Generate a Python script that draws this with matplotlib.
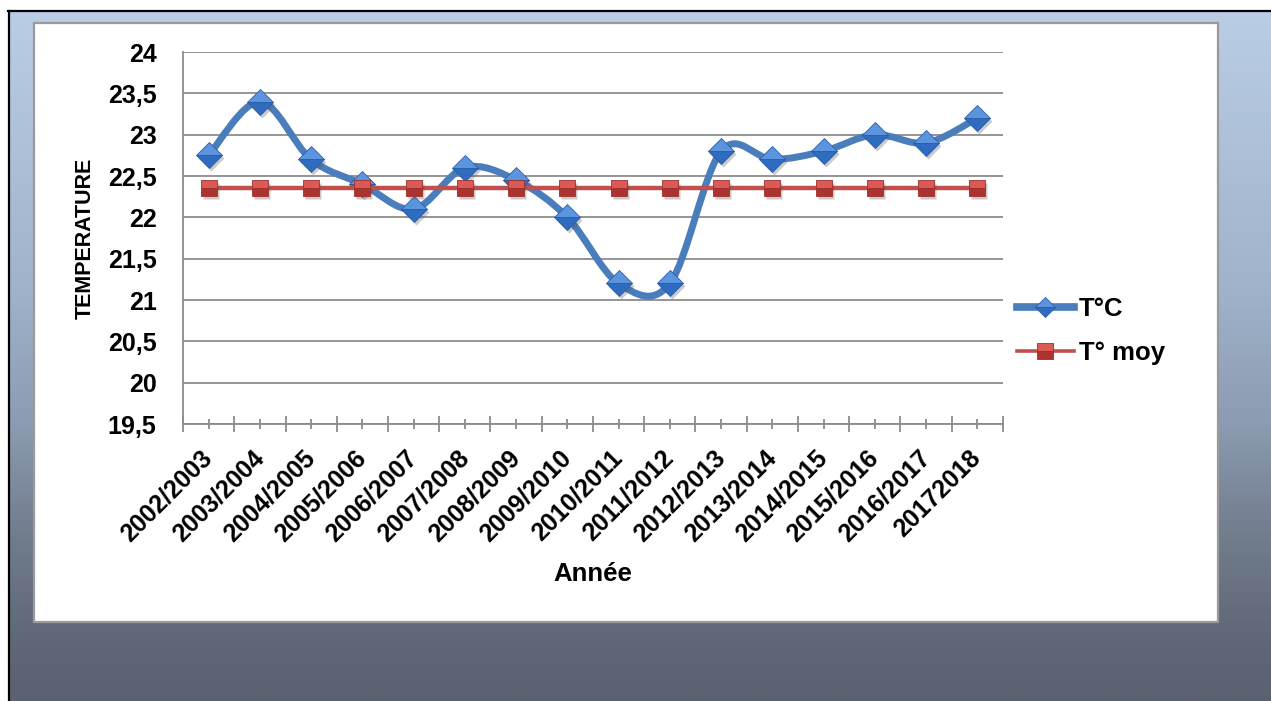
import numpy as np
import matplotlib
matplotlib.use("Agg")
import matplotlib.pyplot as plt
from matplotlib.path import Path
from matplotlib.patches import PathPatch, Rectangle
from matplotlib.lines import Line2D
from matplotlib.ticker import FuncFormatter
from matplotlib.transforms import offset_copy

plt.rcParams['font.family'] = ['Liberation Sans', 'DejaVu Sans']
plt.rcParams['font.weight'] = 'bold'

# ==================== Data ==================== #
years = ['2002/2003', '2003/2004', '2004/2005', '2005/2006', '2006/2007',
         '2007/2008', '2008/2009', '2009/2010', '2010/2011', '2011/2012',
         '2012/2013', '2013/2014', '2014/2015', '2015/2016', '2016/2017',
         '20172018']
temp = [22.75, 23.4, 22.7, 22.4, 22.1, 22.6, 22.45, 22.0,
        21.2, 21.2, 22.8, 22.7, 22.8, 23.0, 22.9, 23.2]
temp_moy = [22.35] * len(years)

W, H = 1271, 701
fig = plt.figure(figsize=(W / 100, H / 100), dpi=100)

# ==================== Background ==================== #
bg = fig.add_axes([0, 0, 1, 1], zorder=0)
bg.set_xlim(0, W)
bg.set_ylim(H, 0)
bg.axis('off')

# vertical gradient, light blue at the top to slate at the bottom
stops = [0.0, 0.4, 0.6, 0.75, 0.9, 1.0]
cols = np.array([[185, 205, 228], [160, 179, 202], [140, 155, 177],
                 [115, 126, 143], [96, 105, 120], [90, 97, 112]]) / 255
yy = np.linspace(0, 1, 400)
grad = np.stack([np.interp(yy, stops, cols[:, k]) for k in range(3)], axis=-1)
bg.imshow(grad[:, None, :], extent=(9, W, H, 12), aspect='auto', zorder=0)
bg.plot([8.8, 8.8], [11, H], color='black', lw=1.6, zorder=1)
bg.plot([8, W], [11.2, 11.2], color='black', lw=1.6, zorder=1)

# white chart panel
bg.add_patch(Rectangle((34, 23), 1184, 599, facecolor='white',
                       edgecolor='#9a9a9a', lw=1.6, zorder=2))

# ==================== Plot area ==================== #
ax = fig.add_axes([183 / W, 1 - 424 / H, 820 / W, 372 / H], zorder=1)
ax.patch.set_alpha(0)

x = np.arange(len(years)) + 0.5
ax.set_xlim(0, len(years))
ax.set_ylim(19.5, 24)


def smooth_path(xs, ys):
    # Catmull-Rom style bezier through the points (smoothed line)
    pts = np.column_stack([xs, ys])
    ext = np.vstack([pts[0], pts, pts[-1]])
    verts = [pts[0]]
    codes = [Path.MOVETO]
    for i in range(len(pts) - 1):
        p0, p1, p2, p3 = ext[i], ext[i + 1], ext[i + 2], ext[i + 3]
        verts += [p1 + (p2 - p0) / 6, p2 - (p3 - p1) / 6, p2]
        codes += [Path.CURVE4] * 3
    return Path(verts, codes)


blue = '#4a7dbb'
red = '#c0504d'
shadow = offset_copy(ax.transData, fig=fig, x=2, y=-3, units='dots')

ax.add_patch(PathPatch(smooth_path(x, temp), facecolor='none', edgecolor=blue,
                       lw=5, capstyle='round', joinstyle='round', zorder=3))
ax.plot(x, temp, ls='none', marker='D', ms=13.5, color='#555555', alpha=0.3,
        mec='none', transform=shadow, zorder=3.5)
ax.plot(x, temp, ls='none', marker='D', ms=13.5, fillstyle='top',
        mfc='#5c95df', mfcalt='#2f6bbf', mec='#2b5fa8', mew=0.6, zorder=4)

ax.plot(x, temp_moy, color=red, lw=3.2, zorder=5)
ax.plot(x, temp_moy, ls='none', marker='s', ms=11.5, color='#555555', alpha=0.3,
        mec='none', transform=shadow, zorder=5.5)
ax.plot(x, temp_moy, ls='none', marker='s', ms=11.5, fillstyle='top',
        mfc='#dc5a56', mfcalt='#ab3330', mec='#9e2f2c', mew=0.6, zorder=6)

# ==================== Axes styling ==================== #
grey = '#8c8c8c'
ax.set_yticks(np.arange(19.5, 24.01, 0.5))
ax.yaxis.set_major_formatter(FuncFormatter(lambda v, p: f'{v:g}'.replace('.', ',')))
ax.yaxis.grid(True, color=grey, lw=1.3)
ax.set_axisbelow(True)
ax.tick_params(axis='y', length=0, pad=19, labelsize=18)

ax.set_xticks(np.arange(len(years) + 1))
ax.set_xticks(x, minor=True)
ax.set_xticklabels(years, minor=True, rotation=45, ha='right', va='center',
                   rotation_mode='anchor', fontsize=18)
ax.tick_params(axis='x', which='major', direction='inout', length=11.5,
               width=1.3, color=grey, labelbottom=False)
ax.tick_params(axis='x', which='minor', direction='inout', length=7,
               width=1.3, color=grey, pad=18)

for side in ['top', 'right']:
    ax.spines[side].set_visible(False)
for side in ['left', 'bottom']:
    ax.spines[side].set_color(grey)
    ax.spines[side].set_linewidth(1.3)

ax.set_ylabel('TEMPERATURE', fontsize=15.5, fontweight='bold')
ax.yaxis.set_label_coords(-0.106, 0.5)
ax.set_xlabel('Année', fontsize=18.5, fontweight='bold')
ax.xaxis.set_label_coords(0.5, -0.37)

# ==================== Legend ==================== #
h1 = Line2D([], [], color=blue, lw=5.5, marker='D', ms=10, fillstyle='top',
            mfc='#5c95df', mfcalt='#2f6bbf', mec='#2b5fa8', mew=0.6)
h2 = Line2D([], [], color=red, lw=2.6, marker='s', ms=11, fillstyle='top',
            mfc='#dc5a56', mfcalt='#ab3330', mec='#9e2f2c', mew=0.6)
ax.legend([h1, h2], ['T°C', 'T° moy'], loc='center left',
          bbox_to_anchor=(1017 / W, 1 - 331 / H), bbox_transform=fig.transFigure,
          frameon=False, handlelength=2.2, handletextpad=0.2, labelspacing=0.75,
          borderpad=0, borderaxespad=0, prop={'size': 18.5, 'weight': 'bold'})

fig.savefig('out.png', dpi=100)
